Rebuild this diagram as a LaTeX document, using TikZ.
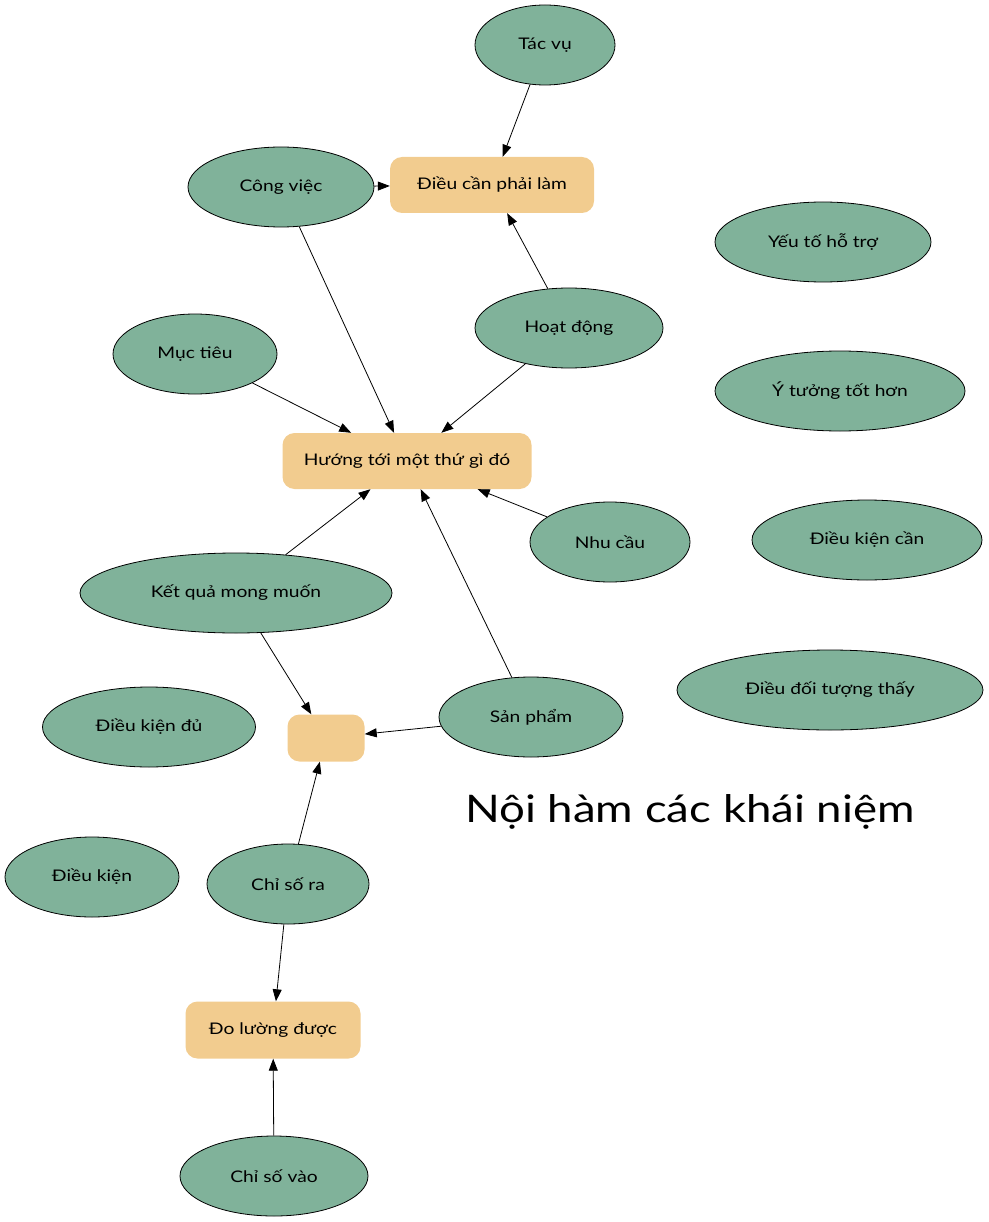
\documentclass[tikz,border=0pt]{standalone}
\usepackage{fontspec}
\setmainfont[FakeStretch=1.2]{Lato}
\usetikzlibrary{arrows.meta,shapes.geometric}
\definecolor{sage}{HTML}{80B29A}
\definecolor{sand}{HTML}{F2CC8F}

\begin{document}
\begin{tikzpicture}[x=1pt,y=-1pt,font=\fontsize{16}{19}\selectfont,
  idea/.style={ellipse,draw=black,fill=sage,line width=0.8pt,inner sep=0pt,minimum height=80pt},
  goal/.style={rectangle,rounded corners=12pt,fill=sand,inner sep=0pt},
  link/.style={-{Triangle[length=12pt,width=9pt]},line width=0.8pt}]
\useasboundingbox (0,0) rectangle (988,1222);
\node[idea,minimum width=140pt] (tacvu) at (545,45) {Tác vụ};
\node[goal,minimum width=204pt,minimum height=56pt] (dieucan) at (492,185) {Điều cần phải làm};
\node[idea,minimum width=186pt] (congviec) at (281,187) {Công việc};
\node[idea,minimum width=216pt] (yeuto) at (823,242) {Yếu tố hỗ trợ};
\node[idea,minimum width=188pt] (hoatdong) at (569,328) {Hoạt động};
\node[idea,minimum width=164pt] (muctieu) at (195,354) {Mục tiêu};
\node[idea,minimum width=250pt] (ytuong) at (840,391) {Ý tưởng tốt hơn};
\node[goal,minimum width=249pt,minimum height=56pt] (huongtoi) at (407,461) {Hướng tới một thứ gì đó};
\node[idea,minimum width=160pt] (nhucau) at (610,542) {Nhu cầu};
\node[idea,minimum width=230pt] (dkcan) at (867,540) {Điều kiện cần};
\node[idea,minimum width=312pt] (ketqua) at (236,593) {Kết quả mong muốn};
\node[idea,minimum width=306pt] (doituong) at (830,690) {Điều đối tượng thấy};
\node[idea,minimum width=213pt] (dkdu) at (149,727) {Điều kiện đủ};
\node[goal,minimum width=77pt,minimum height=47pt] (rong) at (326,738) {};
\node[idea,minimum width=184pt] (sanpham) at (531,717) {Sản phẩm};
\node[font=\fontsize{38}{44}\selectfont] (tieude) at (690,812) {Nội hàm các khái niệm};
\node[idea,minimum width=174pt] (dieukien) at (92,877) {Điều kiện};
\node[idea,minimum width=162pt] (chisora) at (288,884) {Chỉ số ra};
\node[goal,minimum width=175pt,minimum height=57pt] (doluong) at (273,1030) {Đo lường được};
\node[idea,minimum width=188pt] (chisovao) at (274,1176) {Chỉ số vào};
\draw[link] (tacvu) -- (dieucan);
\draw[link] (congviec) -- (dieucan);
\draw[link] (hoatdong) -- (dieucan);
\draw[link] (congviec) -- (huongtoi);
\draw[link] (muctieu) -- (huongtoi);
\draw[link] (hoatdong) -- (huongtoi);
\draw[link] (ketqua) -- (huongtoi);
\draw[link] (nhucau) -- (huongtoi);
\draw[link] (sanpham) -- (huongtoi);
\draw[link] (ketqua) -- (rong);
\draw[link] (sanpham) -- (rong);
\draw[link] (chisora) -- (rong);
\draw[link] (chisora) -- (doluong);
\draw[link] (chisovao) -- (doluong);
\end{tikzpicture}
\end{document}
